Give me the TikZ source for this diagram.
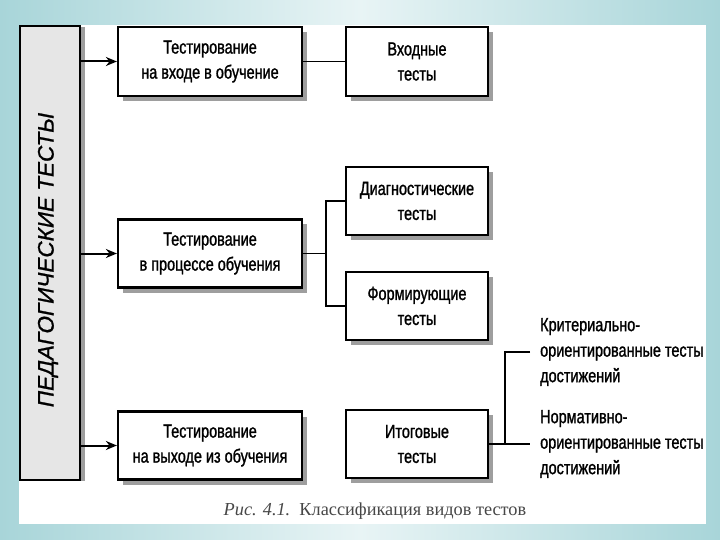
\documentclass[tikz,border=0pt]{standalone}
\usepackage{fontspec}
\setmainfont{Liberation Serif}
\newfontfamily\boxfont[FakeStretch=0.76,FakeBold=1.2]{Liberation Sans}
\newfontfamily\sidefont[FakeBold=1.0]{Liberation Sans}
\usetikzlibrary{shadows,arrows.meta}
\definecolor{bgA}{RGB}{168,213,217}
\definecolor{bgB}{RGB}{232,244,245}
\definecolor{sidefill}{RGB}{230,230,230}
\tikzset{
  shad/.style={drop shadow={shadow xshift=5pt, shadow yshift=-5pt, fill=black!38, opacity=1}},
  tbox/.style={draw=black, line width=2.2pt, fill=white, inner sep=0pt, align=center,
    minimum height=68pt, font=\boxfont\fontsize{19}{25}\selectfont, shad},
  wbox/.style={tbox, minimum width=184pt},
  nbox/.style={tbox, minimum width=142pt},
  arr/.style={line width=2pt, -{Stealth[length=11pt,width=9pt]}},
  conn/.style={line width=1.6pt},
  thin conn/.style={line width=1.2pt},
  rtext/.style={inner sep=0pt, anchor=west, align=left, font=\boxfont\fontsize{19}{25.5}\selectfont}
}
\begin{document}
\begin{tikzpicture}[x=1pt,y=-1pt]
\useasboundingbox (0,0) rectangle (720,540);
% background
\shade[left color=bgA, right color=bgA, middle color=bgB] (0,0) rectangle (720,540);
\fill[white] (19,25) rectangle (706,524);
% side box
\node[draw=black, line width=1.8pt, fill=sidefill, minimum width=60pt, minimum height=454pt,
  inner sep=0pt, drop shadow={shadow xshift=5pt, shadow yshift=-1pt, fill=black!38, opacity=1}] (P) at (50,253) {};
\node[rotate=90, font=\sidefont\itshape\fontsize{22.5}{26}\selectfont, inner sep=0pt] (PT) at (48,260) {ПЕДАГОГИЧЕСКИЕ ТЕСТЫ};
% boxes
\node[wbox, minimum height=69pt] (A) at (210,61.5) {Тестирование\\на входе в обучение};
\node[nbox, minimum height=69pt] (B) at (417,61.5) {Входные\\тесты};
\node[nbox] (C) at (417,201) {Диагностические\\тесты};
\node[wbox] (D) at (210,253.5) {Тестирование\\в процессе обучения};
\node[nbox] (E) at (417,306) {Формирующие\\тесты};
\node[wbox] (F) at (210,445.5) {Тестирование\\на выходе из обучения};
\node[nbox] (G) at (417,444) {Итоговые\\тесты};
\node[rtext] (T1) at (540,352) {Критериально-\\ориентированные тесты\\достижений};
\node[rtext] (T2) at (540,444) {Нормативно-\\ориентированные тесты\\достижений};
% arrows
\draw[arr] (A.west -| P.east) -- (A.west);
\draw[arr] (D.west -| P.east) -- (D.west);
\draw[arr] (F.west -| P.east) -- (F.west);
% connectors
\draw[conn] (A.east) -- (B.west);
\coordinate (j1) at (326,253.5);
\draw[conn] (D.east) -- (j1);
\draw[thin conn] (C.west) -| (j1) |- (E.west);
\coordinate (j2) at (505,444);
\draw[conn] (G.east) -- ([xshift=-10pt]T2.west);
\draw[thin conn] ([xshift=-10pt]T1.west) -| (j2);
% caption
\node[font=\fontsize{18.3}{20}\selectfont, text=black!72, inner sep=0pt] (cap) at (375,511) {\textit{Рис. 4.1.}\ \ Классификация видов тестов};
\end{tikzpicture}
\end{document}
